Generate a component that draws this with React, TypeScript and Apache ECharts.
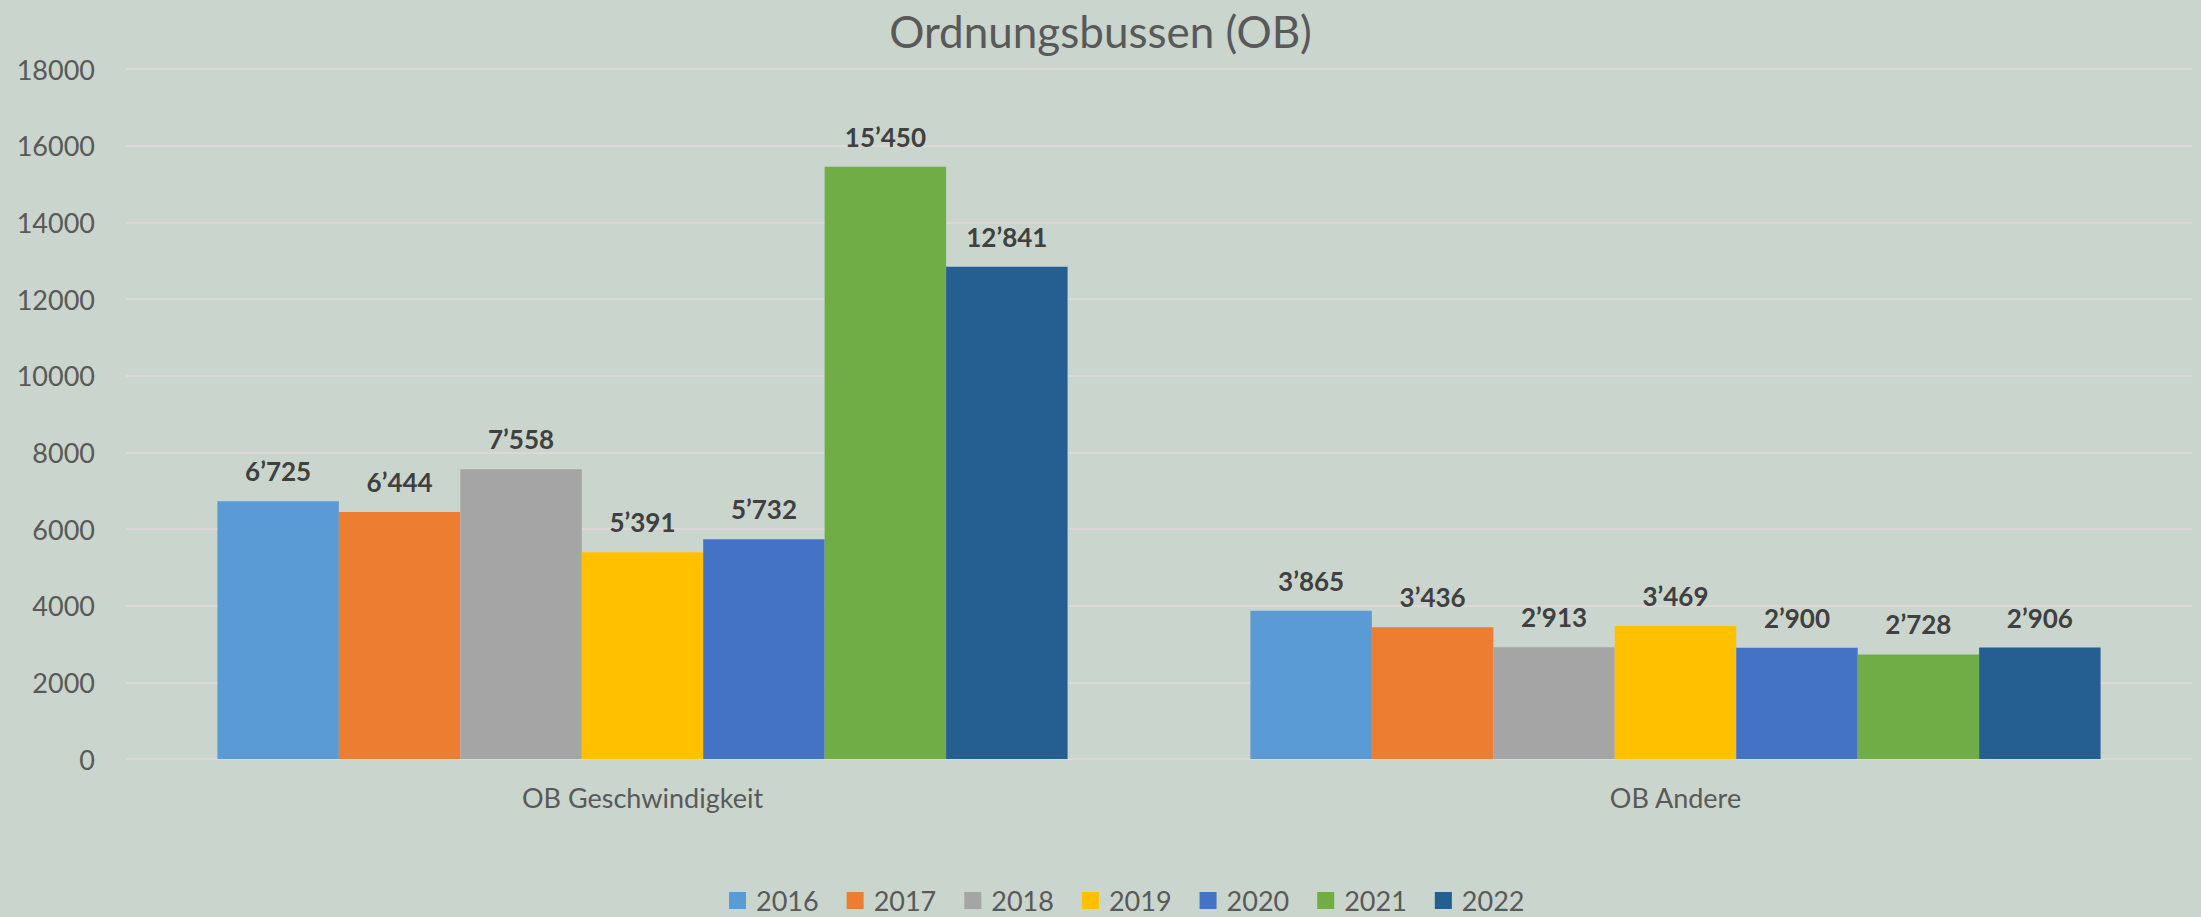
import React, { useEffect, useRef } from "react";
import * as echarts from "echarts";

const categories = ["OB Geschwindigkeit", "OB Andere"];
const years = ["2016", "2017", "2018", "2019", "2020", "2021", "2022"];
const values2016 = [6725, 3865];
const values2017 = [6444, 3436];
const values2018 = [7558, 2913];
const values2019 = [5391, 3469];
const values2020 = [5732, 2900];
const values2021 = [15450, 2728];
const values2022 = [12841, 2906];
const seriesValues = [values2016, values2017, values2018, values2019, values2020, values2021, values2022];
const colors = ["#5B9BD5", "#ED7D31", "#A5A5A5", "#FFC000", "#4472C4", "#70AD47", "#255E91"];
const titleText = "Ordnungsbussen (OB)";

const fmt = (v: number) => {
  const th = Math.floor(v / 1000);
  const rest = v % 1000;
  return th > 0 ? th + "\u2019" + String(rest).padStart(3, "0") : String(rest);
};

export default function App() {
  const ref = useRef<HTMLDivElement>(null);
  useEffect(() => {
    if (!ref.current) return;
    const chart = echarts.init(ref.current, null, { renderer: "svg" });
    const font = "Lato, 'Open Sans', sans-serif";
    chart.setOption({
      animation: false,
      backgroundColor: "#c9d5cd",
      textStyle: { fontFamily: font },
      title: {
        text: titleText,
        left: "center",
        top: 4,
        textStyle: { fontFamily: font, fontSize: 44, fontWeight: "normal", color: "#595959" },
      },
      legend: {
        data: years,
        left: 724,
        top: 882,
        itemWidth: 17,
        itemHeight: 17,
        itemGap: 28,
        icon: "rect",
        textStyle: { fontFamily: font, fontSize: 27, color: "#595959", padding: [0, 0, 0, 5] },
      },
      grid: { left: 126, right: 9, top: 69, bottom: 158, containLabel: false },
      xAxis: {
        type: "category",
        data: categories,
        axisLine: { show: false },
        axisTick: { show: false },
        axisLabel: { fontFamily: font, fontSize: 27, color: "#595959", margin: 25 },
      },
      yAxis: {
        type: "value",
        min: 0,
        max: 18000,
        interval: 2000,
        axisLine: { show: false },
        axisTick: { show: false },
        axisLabel: {
          fontFamily: font,
          fontSize: 27,
          color: "#595959",
          margin: 31,
          formatter: (v: number) => String(v),
        },
        splitLine: { lineStyle: { color: "#dcd7d9", width: 2 } },
      },
      series: years.map((y, i) => ({
        name: y,
        type: "bar",
        data: seriesValues[i],
        barGap: "0%",
        barCategoryGap: "17.7%",
        itemStyle: { color: colors[i] },
        label: {
          show: true,
          position: "top",
          distance: 17,
          fontFamily: font,
          fontSize: 26,
          fontWeight: "bold",
          color: "#404040",
          formatter: (p: any) => fmt(p.value),
        },
      })),
    });
    return () => chart.dispose();
  }, []);
  return (
    <div
      ref={ref}
      style={{ position: "fixed", left: 0, top: 0, width: 2201, height: 917 }}
    />
  );
}
